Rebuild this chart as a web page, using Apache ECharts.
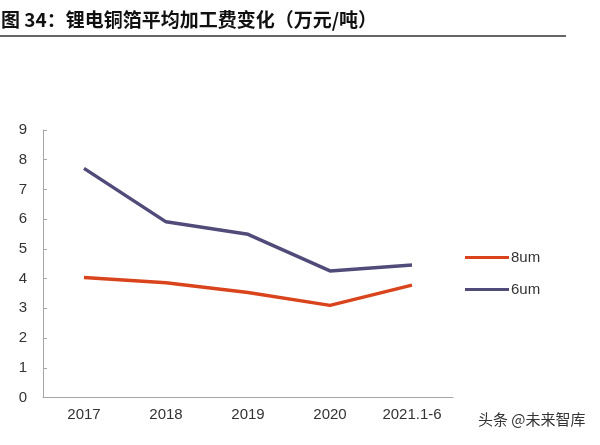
<!DOCTYPE html>
<html>
<head>
<meta charset="utf-8">
<script src="https://cdn.jsdelivr.net/npm/echarts@6/dist/echarts.min.js"></script>
<style>
html,body{margin:0;padding:0;background:#fff;}
#chart{width:600px;height:445px;}
</style>
</head>
<body>
<div id="chart"></div>
<script>
const categories = ['2017', '2018', '2019', '2020', '2021.1-6'];
const series8um = [4.04, 3.86, 3.53, 3.10, 3.78];
const series6um = [7.71, 5.91, 5.49, 4.26, 4.46];
const yTicks = [0, 1, 2, 3, 4, 5, 6, 7, 8, 9];

const chart = echarts.init(document.getElementById('chart'));
const axisColor = '#a6a6a6';
chart.setOption({
  animation: false,
  backgroundColor: '#fff',
  title: {
    text: '图 34：锂电铜箔平均加工费变化（万元/吨）',
    left: 0,
    top: 10,
    padding: [0, 0, 0, 1],
    textStyle: { fontFamily: 'Noto Sans CJK SC', fontSize: 19, fontWeight: 'bold', color: '#111' }
  },
  graphic: [
    { type: 'line', shape: { x1: 0, y1: 36, x2: 566, y2: 36 }, style: { stroke: '#333', lineWidth: 1.5 } },
    { type: 'text', left: 478, top: 412, style: { text: '头条 @未来智库', fill: '#333', font: '15px "Noto Sans CJK SC"' } }
  ],
  legend: {
    orient: 'vertical',
    left: 460,
    top: 245,
    itemWidth: 44,
    itemHeight: 3,
    itemGap: 17,
    icon: 'rect',
    textStyle: { fontFamily: 'Liberation Sans', fontSize: 15, color: '#333', padding: [0, 0, 0, -3] },
    data: ['8um', '6um']
  },
  grid: { left: 43, right: 147, top: 130, bottom: 47.5 },
  xAxis: {
    type: 'category',
    data: categories,
    boundaryGap: true,
    axisLine: { lineStyle: { color: axisColor, width: 1 } },
    axisTick: { inside: true, length: 4, lineStyle: { color: axisColor } },
    axisLabel: { color: '#333', fontSize: 15, fontFamily: 'Liberation Sans', margin: 10 }
  },
  yAxis: {
    type: 'value',
    min: yTicks[0],
    max: yTicks[yTicks.length - 1],
    interval: 1,
    axisLine: { show: true, lineStyle: { color: axisColor, width: 1 } },
    axisTick: { show: true, inside: true, length: 4, lineStyle: { color: axisColor } },
    splitLine: { show: false },
    axisLabel: { color: '#333', fontSize: 15, fontFamily: 'Liberation Sans', margin: 16 }
  },
  series: [
    { name: '8um', type: 'line', data: series8um, symbol: 'none', lineStyle: { color: '#d9441d', width: 3.5 }, itemStyle: { color: '#d9441d' } },
    { name: '6um', type: 'line', data: series6um, symbol: 'none', lineStyle: { color: '#514b7a', width: 3.5 }, itemStyle: { color: '#514b7a' } }
  ]
});
</script>
</body>
</html>
